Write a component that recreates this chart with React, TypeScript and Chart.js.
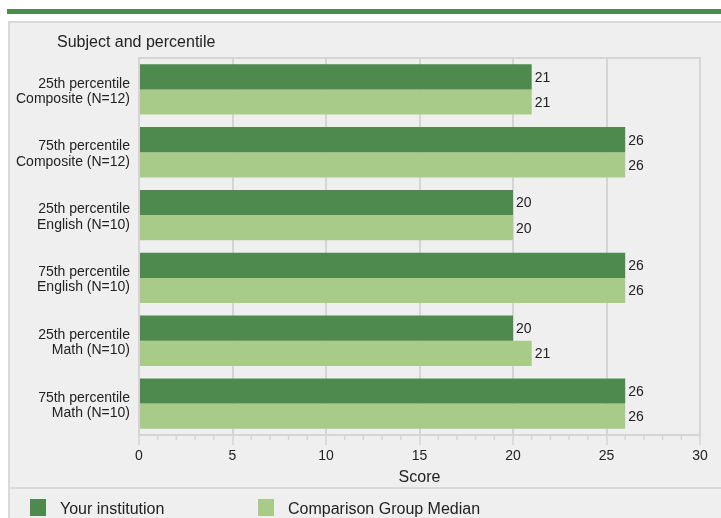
import React, { useEffect, useRef } from "react";
import { Chart, registerables } from "chart.js";

Chart.register(...registerables);

// Row labels (two lines each) and the two series
const categories: string[][] = [
  ["25th percentile", "Composite (N=12)"],
  ["75th percentile", "Composite (N=12)"],
  ["25th percentile", "English (N=10)"],
  ["75th percentile", "English (N=10)"],
  ["25th percentile", "Math (N=10)"],
  ["75th percentile", "Math (N=10)"],
];
const yourInstitution: number[] = [21, 26, 20, 26, 20, 26];
const comparisonMedian: number[] = [21, 26, 20, 26, 21, 26];
const seriesNames: string[] = ["Your institution", "Comparison Group Median"];
const axisTitleY = "Subject and percentile";
const axisTitleX = "Score";
const xMin = 0;
const xMax = 30;
const xMajorStep = 5;
const xMinorStep = 1;

const DARK = "#4e8a4e";
const LIGHT = "#a9cb89";
const GRID = "#d5d5d5";
const TEXT = "#222222";
const FONT = '"Liberation Sans", Arial, Helvetica, sans-serif';

const decorations = {
  id: "decorations",
  afterDraw(chart: any) {
    const { ctx, chartArea } = chart;
    const xs = chart.scales.x;
    ctx.save();
    // frame top line
    ctx.strokeStyle = GRID;
    ctx.lineWidth = 2;
    ctx.beginPath();
    ctx.moveTo(chartArea.left, chartArea.top);
    ctx.lineTo(chartArea.right + 1, chartArea.top);
    ctx.stroke();
    // minor ticks under the x axis
    ctx.lineWidth = 1.5;
    for (let v = xMin; v <= xMax; v += xMinorStep) {
      if (v % xMajorStep === 0) continue;
      const px = xs.getPixelForValue(v);
      ctx.beginPath();
      ctx.moveTo(px, chartArea.bottom);
      ctx.lineTo(px, chartArea.bottom + 5);
      ctx.stroke();
    }
    // axis titles
    ctx.fillStyle = TEXT;
    ctx.font = `16px ${FONT}`;
    ctx.textBaseline = "middle";
    ctx.textAlign = "left";
    ctx.fillText(axisTitleY, 57, 43);
    ctx.textAlign = "center";
    ctx.fillText(axisTitleX, (chartArea.left + chartArea.right) / 2, 478);
    // value labels at bar ends
    ctx.font = `14px ${FONT}`;
    ctx.textAlign = "left";
    chart.data.datasets.forEach((ds: any, di: number) => {
      const meta = chart.getDatasetMeta(di);
      meta.data.forEach((bar: any, i: number) => {
        ctx.fillText(String(ds.data[i]), bar.x + 3, bar.y + 1);
      });
    });
    // legend
    const legendX = [30, 258];
    chart.data.datasets.forEach((ds: any, di: number) => {
      ctx.fillStyle = ds.backgroundColor;
      ctx.fillRect(legendX[di], 499, 16, 17);
      ctx.fillStyle = TEXT;
      ctx.font = `16px ${FONT}`;
      ctx.fillText(ds.label, legendX[di] + 30, 509.5);
    });
    ctx.restore();
  },
};

export default function App() {
  const canvasRef = useRef<HTMLCanvasElement | null>(null);

  useEffect(() => {
    if (!canvasRef.current) return;
    const chart = new Chart(canvasRef.current, {
      type: "bar",
      data: {
        labels: categories,
        datasets: [
          {
            label: seriesNames[0],
            data: yourInstitution,
            backgroundColor: DARK,
            categoryPercentage: 0.8,
            barPercentage: 1.0,
          },
          {
            label: seriesNames[1],
            data: comparisonMedian,
            backgroundColor: LIGHT,
            categoryPercentage: 0.8,
            barPercentage: 1.0,
          },
        ],
      },
      options: {
        indexAxis: "y",
        animation: false,
        responsive: false,
        maintainAspectRatio: false,
        layout: { padding: { top: 58, right: 21, bottom: 0, left: 0 } },
        plugins: {
          legend: { display: false },
          title: { display: false },
          tooltip: { enabled: false },
        },
        scales: {
          x: {
            type: "linear",
            min: xMin,
            max: xMax,
            ticks: {
              stepSize: xMajorStep,
              color: TEXT,
              font: { family: FONT, size: 14 },
              padding: 3,
              maxRotation: 0,
            },
            grid: {
              color: GRID,
              lineWidth: 2,
              tickLength: 10,
              tickColor: GRID,
              tickWidth: 1.5,
            },
            border: { display: true, color: GRID, width: 2 },
            afterFit(scale: any) {
              scale.height = 83;
            },
          },
          y: {
            type: "category",
            ticks: {
              color: TEXT,
              font: { family: FONT, size: 14, lineHeight: 1.1 },
              padding: 9,
              labelOffset: 2,
            },
            grid: { display: false, drawTicks: false },
            border: { display: true, color: GRID, width: 2 },
            afterFit(scale: any) {
              scale.width = 139;
            },
          },
        },
      },
      plugins: [decorations],
    });
    return () => chart.destroy();
  }, []);

  return (
    <div
      style={{
        position: "fixed",
        left: 0,
        top: 0,
        width: 721,
        height: 518,
        background: "#ffffff",
        overflow: "hidden",
      }}
    >
      <div
        style={{
          position: "absolute",
          left: 7,
          top: 9,
          width: 714,
          height: 5,
          background: DARK,
        }}
      />
      <div
        style={{
          position: "absolute",
          left: 8,
          top: 21,
          width: 720,
          height: 520,
          background: "#efefef",
          borderTop: "2px solid #d9d9d9",
          borderLeft: "2px solid #d9d9d9",
        }}
      />
      <div
        style={{
          position: "absolute",
          left: 9,
          top: 487,
          width: 712,
          height: 2,
          background: "#dadada",
        }}
      />
      <canvas
        ref={canvasRef}
        width={721}
        height={518}
        style={{ position: "absolute", left: 0, top: 0, width: 721, height: 518 }}
      />
    </div>
  );
}
